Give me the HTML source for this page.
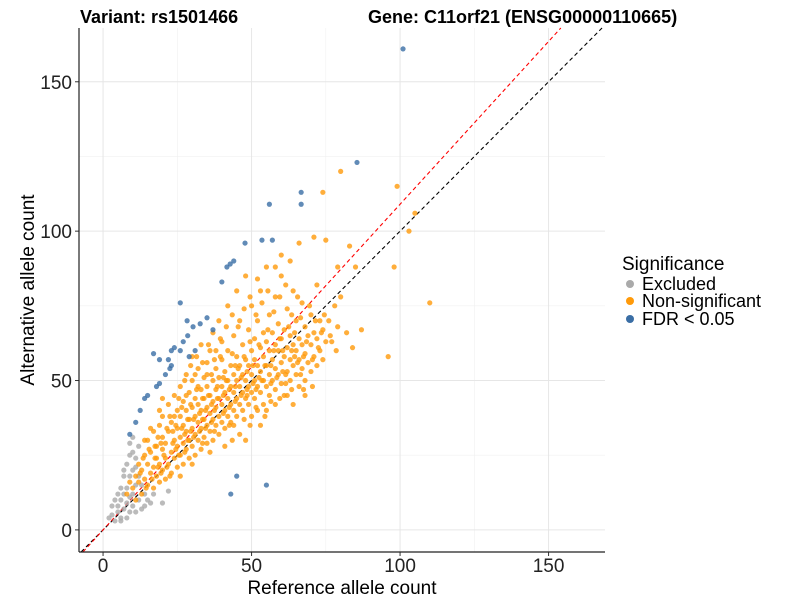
<!DOCTYPE html>
<html><head><meta charset="utf-8"><style>
body{margin:0;background:#fff;font-family:"Liberation Sans",sans-serif}
svg text{font-family:"Liberation Sans",sans-serif}
</style></head><body>
<svg id="chart" width="800" height="600">
<text x="80" y="23" font-size="18" font-weight="bold">Variant: rs1501466</text>
<text x="368" y="23" font-size="18" font-weight="bold">Gene: C11orf21 (ENSG00000110665)</text>
<g id="grid"></g>
<g id="lines"></g>
<g id="points"></g>
<g id="axes"></g>
<text x="342" y="594" font-size="19" text-anchor="middle">Reference allele count</text>
<text transform="translate(34,290) rotate(-90)" font-size="19" text-anchor="middle">Alternative allele count</text>
<g>
<text x="622" y="270" font-size="19">Significance</text>
<circle cx="630" cy="284" r="4" fill="#aaaaaa"/>
<text x="642" y="290" font-size="18">Excluded</text>
<circle cx="630" cy="301" r="4" fill="#ff9a0a"/>
<text x="642" y="307" font-size="18">Non-significant</text>
<circle cx="630" cy="319" r="4" fill="#3a6ea5"/>
<text x="642" y="325" font-size="18">FDR &lt; 0.05</text>
</g>
</svg>
<script>
const xTicks=[0,50,100,150];
const yTicks=[0,50,100,150];
const minorTicks=[25,75,125];
const excludedPoints=[[3,5],[4,3],[5,6],[5,8],[6,4],[6,10],[7,7],[7,12],[8,9],[8,14],[9,6],[9,11],[9,18],[10,8],[10,12],[10,20],[11,15],[11,24],[12,10],[12,28],[13,7],[6,14],[7,18],[8,22],[4,10],[2,4],[3,8],[10,26],[14,8],[15,10],[11,6],[5,12],[8,4],[12,18],[9,25],[7,20],[6,3],[9,29],[10,31],[11,21],[13,15],[14,12],[16,9],[17,12],[20,9],[22,13]];
const nonsigPoints=[[10,14],[11,18],[12,16],[12,22],[13,12],[13,20],[14,17],[14,25],[15,15],[15,22],[15,30],[16,19],[16,26],[17,14],[17,21],[17,33],[18,18],[18,24],[18,28],[19,16],[19,22],[19,35],[20,20],[20,27],[20,31],[20,38],[21,17],[21,24],[21,29],[22,22],[22,33],[22,42],[23,19],[23,26],[23,36],[24,24],[24,30],[24,45],[25,21],[25,28],[25,34],[25,40],[26,25],[26,31],[26,38],[26,48],[27,22],[27,29],[27,35],[27,43],[28,27],[28,33],[28,40],[28,52],[29,24],[29,30],[29,37],[29,46],[30,28],[30,34],[30,41],[30,50],[30,58],[31,25],[31,32],[31,38],[31,44],[32,30],[32,36],[32,42],[32,54],[33,27],[33,34],[33,40],[33,47],[33,62],[34,31],[34,37],[34,44],[34,51],[35,29],[35,35],[35,41],[35,48],[35,56],[36,33],[36,39],[36,45],[36,60],[37,30],[37,37],[37,43],[37,50],[37,66],[38,35],[38,41],[38,47],[38,54],[39,32],[39,38],[39,44],[39,51],[39,70],[40,36],[40,42],[40,48],[40,57],[40,63],[41,34],[41,40],[41,46],[41,53],[42,38],[42,44],[42,50],[42,60],[42,75],[43,36],[43,42],[43,48],[43,55],[44,40],[44,46],[44,52],[44,65],[45,38],[45,44],[45,50],[45,58],[45,80],[46,42],[46,48],[46,55],[46,70],[47,40],[47,46],[47,52],[47,62],[48,44],[48,50],[48,57],[48,85],[49,42],[49,48],[49,55],[49,67],[50,46],[50,52],[50,60],[50,75],[51,44],[51,50],[51,57],[51,64],[52,40],[52,48],[52,55],[52,70],[53,46],[53,53],[53,61],[53,80],[54,42],[54,50],[54,58],[54,66],[55,48],[55,55],[55,63],[55,88],[56,45],[56,52],[56,60],[56,72],[57,50],[57,57],[57,66],[58,47],[58,54],[58,62],[58,78],[59,52],[59,60],[59,69],[60,49],[60,56],[60,64],[60,85],[61,45],[61,58],[61,67],[62,53],[62,61],[62,74],[63,50],[63,57],[63,65],[64,55],[64,62],[64,80],[65,52],[65,60],[65,70],[66,48],[66,57],[66,64],[67,54],[67,62],[67,76],[68,50],[68,59],[68,68],[69,56],[69,65],[70,53],[70,62],[70,72],[71,58],[71,66],[72,55],[72,64],[72,82],[73,60],[73,70],[74,57],[74,67],[75,63],[76,70],[77,63],[79,68],[82,66],[84,61],[87,67],[78,75],[80,78],[85,88],[83,95],[79,88],[75,97],[71,98],[66,96],[80,120],[74,113],[99,115],[103,100],[105,106],[110,76],[96,58],[98,88],[63,90],[60,92],[58,88],[52,84],[8,12],[9,16],[11,10],[14,30],[16,34],[19,40],[24,38],[38,60],[44,35],[50,38],[46,32],[41,28],[36,26],[30,22],[26,18],[55,40],[62,45],[58,42],[68,45],[64,42],[48,30],[53,35],[35,52],[28,45],[32,48],[31,52],[20,44],
[12.5,19],[13.5,24],[14.5,14],[15.5,27],[16.5,17],[17.5,24],[18.5,31],[19.5,19],[20.5,25],[21.5,34],[22.5,18],[23.5,29],[24.5,35],[25.5,25],[26.5,41],[27.5,32],[28.5,37],[29.5,42],[30.5,31],[31.5,47],[32.5,39],[33.5,44],[34.5,34],[35.5,45],[36.5,52],[37.5,40],[38.5,48],[39.5,58],[40.5,45],[41.5,50],[42.5,41],[43.5,59],[44.5,48],[45.5,54],[46.5,45],[47.5,58],[48.5,47],[49.5,63],[50.5,55],[51.5,47],[52.5,62],[53.5,50],[54.5,55],[55.5,67],[56.5,49],[57.5,60],[58.5,51],[59.5,64],[60.5,60],[61.5,52],[62.5,68],[63.5,60],[64.5,66],[65.5,56],[66.5,71],[67.5,58],[68.5,63],[69.5,75],[70.5,57],[71.5,70],[72.5,61],[73.5,66],[74.5,72],[76.5,65],[78.5,60],[22.5,38],[25.5,44],[27.5,50],[29.5,55],[31.5,58],[33.5,56],[35.5,62],[37.5,57],[39.5,64],[41.5,68],[43.5,72],[45.5,68],[47.5,74],[49.5,78],[51.5,72],[53.5,76],[55.5,80],[57.5,73],[59.5,78],[61.5,82],[63.5,72],[65.5,78],[28.5,30],[32.5,33],[36.5,36],[40.5,39],[44.5,43],[48.5,45],[52.5,51],[56.5,55],[60.5,53],[64.5,58],[33.5,29],[37.5,33],[42.5,35],[47.5,37],[51.5,41],[56.5,43],[61.5,49],[66.5,52],[70.5,48],[43.5,30],[49.5,35],[54.5,38],[59.5,44],[63.5,47],[67.5,47],[18.5,21],[21.5,21],[24.5,27],[27.5,26],[30.5,37],[34.5,40],[38.5,44],[42.5,47],[46.5,51],[50.5,49],[17.5,28],[19.5,29],[23.5,33],[26.5,34],[29.5,33],[33.5,37],[36.5,42],[40.5,51],[44.5,55],[48.5,53]];
const fdrPoints=[[101,161],[85.5,123],[66.7,113],[66.7,109],[56,109],[47.8,96],[53.5,97],[57,97],[44,90],[42.8,89],[41.7,88],[40,83],[26,76],[35,71],[32.7,69],[30.3,68],[28.3,70],[37,67],[28.5,65],[27,63],[26,60],[24,61],[23,60],[17,59],[19,57],[22,57],[23,55],[22.5,54],[21,52],[19,49],[18,48],[15,45],[14,44],[12.5,40],[11,36],[9,32],[45,18],[43,12],[55,15],[31,60],[29,58]];
const refSlopes=[1.0,1.09];

const X0=79,X1=605,Y0=552,Y1=28;
const xMin=-8.1,xMax=169,yMin=-7.4,yMax=168;
const sx=v=>X0+(v-xMin)/(xMax-xMin)*(X1-X0);
const sy=v=>Y0-(v-yMin)/(yMax-yMin)*(Y0-Y1);
const NS="http://www.w3.org/2000/svg";
function mk(tag,attrs,parent){const e=document.createElementNS(NS,tag);for(const k in attrs)e.setAttribute(k,attrs[k]);document.getElementById(parent).appendChild(e);return e;}

minorTicks.forEach(t=>{
  let l=mk('line',{x1:sx(t),x2:sx(t),y1:Y1,y2:Y0,stroke:'#f0f0f0','stroke-width':0.6},'grid');
  
  
  let m=mk('line',{x1:X0,x2:X1,y1:sy(t),y2:sy(t),stroke:'#f0f0f0','stroke-width':0.6},'grid');
  
  
});
xTicks.forEach(t=>{
  let l=mk('line',{x1:sx(t),x2:sx(t),y1:Y1,y2:Y0,stroke:'#e6e6e6','stroke-width':1},'grid');
  
  
  let tk=mk('line',{x1:sx(t),x2:sx(t),y1:Y0,y2:Y0+4,stroke:'#333'},'axes');
  
  
  let tx=mk('text',{x:sx(t),y:Y0+20,'font-size':19,'text-anchor':'middle',fill:'#222'},'axes');
  tx.textContent=t;
  
  
});
yTicks.forEach(t=>{
  let l=mk('line',{x1:X0,x2:X1,y1:sy(t),y2:sy(t),stroke:'#e6e6e6','stroke-width':1},'grid');
  
  
  let tk=mk('line',{x1:X0-4,x2:X0,y1:sy(t),y2:sy(t),stroke:'#333'},'axes');
  
  
  let tx=mk('text',{x:X0-7,y:sy(t)+7,'font-size':19,'text-anchor':'end',fill:'#222'},'axes');
  tx.textContent=t;
  
  
});
let ax=mk('line',{x1:X0,x2:X0,y1:Y1,y2:Y0,stroke:'#222','stroke-width':1.2},'axes');


let ax2=mk('line',{x1:X0,x2:X1,y1:Y0,y2:Y0,stroke:'#222','stroke-width':1.2},'axes');



refSlopes.forEach((s,i)=>{
  let xs=Math.max(xMin,yMin/s), xe=Math.min(xMax,yMax/s);
  let l=mk('line',{x1:sx(xs),y1:sy(xs*s),x2:sx(xe),y2:sy(xe*s),stroke:i==0?'#000':'#ff0000','stroke-width':1.1,'stroke-dasharray':'4,3'},'lines');
  
  
});
function drawSeries(arr,color,name){
  arr.forEach(p=>{
    let c=mk('circle',{cx:sx(p[0]),cy:sy(p[1]),r:2.6,fill:color,'fill-opacity':0.8},'points');
    
    
  });
}
drawSeries(excludedPoints,'#aaaaaa','excluded-point');
drawSeries(nonsigPoints,'#ff9a0a','nonsignificant-point');
drawSeries(fdrPoints,'#3a6ea5','fdr-point');
</script>
</body></html>
